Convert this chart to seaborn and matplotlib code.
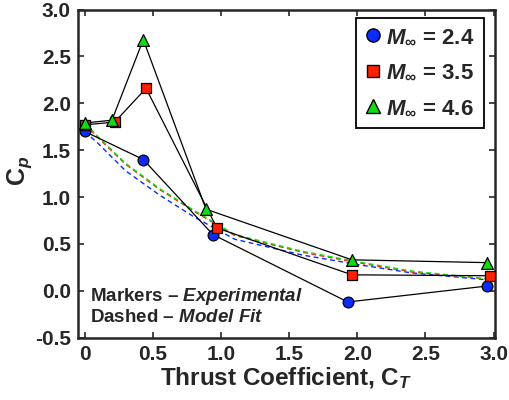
import matplotlib
matplotlib.use("Agg")
import matplotlib.pyplot as plt
from matplotlib.lines import Line2D
import seaborn as sns
import pandas as pd

# Experimental data
ct_24 = [0.0, 0.43, 0.94, 1.93, 2.95]
cp_24 = [1.70, 1.40, 0.60, -0.12, 0.05]
ct_35 = [0.0, 0.22, 0.45, 0.97, 1.96, 2.97]
cp_35 = [1.77, 1.80, 2.16, 0.67, 0.17, 0.16]
ct_46 = [0.0, 0.20, 0.43, 0.89, 1.96, 2.95]
cp_46 = [1.79, 1.82, 2.68, 0.87, 0.33, 0.30]

# Model fit curves
fit_ct = [0.0, 0.1, 0.3, 0.55, 0.8, 1.1, 1.6, 2.0, 2.4, 3.0]
fit_24 = [1.70, 1.57, 1.28, 1.02, 0.79, 0.55, 0.38, 0.28, 0.19, 0.11]
fit_35 = [1.78, 1.63, 1.35, 1.08, 0.85, 0.59, 0.41, 0.30, 0.20, 0.12]
fit_46 = [1.79, 1.64, 1.36, 1.09, 0.86, 0.60, 0.42, 0.31, 0.21, 0.12]

labels = [r"$M_{\infty}$ = 2.4", r"$M_{\infty}$ = 3.5", r"$M_{\infty}$ = 4.6"]
colors = ["#0a2cff", "#ff2000", "#10dd10"]
markers = ["o", "s", "^"]
msizes = [60, 42, 72]
leg_ms = [9.5, 8.8, 10.0]

sns.set_style("ticks")
plt.rcParams["font.family"] = ["Liberation Sans", "DejaVu Sans"]
plt.rcParams["font.weight"] = "bold"
plt.rcParams["mathtext.fontset"] = "custom"
plt.rcParams["mathtext.rm"] = "Liberation Sans:bold"
plt.rcParams["mathtext.it"] = "Liberation Sans:bold:italic"
plt.rcParams["mathtext.bf"] = "Liberation Sans:bold"

fig = plt.figure(figsize=(5.09, 4.0), dpi=100)
ax = fig.add_axes([0.153, 0.156, 0.8195, 0.82])

# dashed fits
for fy, c in zip([fit_24, fit_35, fit_46], colors):
    df = pd.DataFrame({"x": fit_ct, "y": fy})
    sns.lineplot(data=df, x="x", y="y", ax=ax, color=c, lw=1.0,
                 linestyle=(0, (3.5, 2.5)), estimator=None, zorder=2)

# experimental lines + markers
series = [(ct_24, cp_24), (ct_35, cp_35), (ct_46, cp_46)]
for (x, y), c, m, s in zip(series, colors, markers, msizes):
    df = pd.DataFrame({"x": x, "y": y})
    sns.lineplot(data=df, x="x", y="y", ax=ax, color="black", lw=0.9,
                 estimator=None, zorder=3)
    sns.scatterplot(data=df, x="x", y="y", ax=ax, color=c, marker=m, s=s,
                    edgecolor="black", linewidth=0.9, zorder=4)

ax.set_xlim(-0.05, 3.01)
ax.set_ylim(-0.5, 3.0)
ax.set_xticks([0, 0.5, 1.0, 1.5, 2.0, 2.5, 3.0])
ax.set_xticklabels(["0", "0.5", "1.0", "1.5", "2.0", "2.5", "3.0"])
ax.set_yticks([-0.5, 0.0, 0.5, 1.0, 1.5, 2.0, 2.5, 3.0])
ax.set_yticklabels(["-0.5", "0.0", "0.5", "1.0", "1.5", "2.0", "2.5", "3.0"])
ax.tick_params(direction="in", top=True, right=True, length=4, width=1.2,
               labelsize=15, pad=5)
for t in ax.get_xticklabels() + ax.get_yticklabels():
    t.set_fontweight("bold")
for sp in ax.spines.values():
    sp.set_linewidth(1.8)
    sp.set_visible(True)

ax.set_xlabel(r"Thrust Coefficient, C$_{T}$", fontsize=17.5, fontweight="bold", labelpad=1)
ax.set_ylabel(r"C$_{p}$", fontsize=18, fontweight="bold")
ax.yaxis.set_label_coords(-0.105, 0.51)

handles = [Line2D([], [], marker=m, color=c, markeredgecolor="black",
                  markeredgewidth=1.0, linestyle="none", markersize=ms)
           for c, m, ms in zip(colors, markers, leg_ms)]
leg = ax.legend(handles, labels, loc="upper right", fontsize=16,
                frameon=True, fancybox=False, edgecolor="black",
                framealpha=1, handletextpad=0.25, handlelength=0.7,
                labelspacing=0.65, borderpad=0.42, borderaxespad=0,
                bbox_to_anchor=(0.974, 0.975))
leg.get_frame().set_linewidth(1.3)
for t in leg.get_texts():
    t.set_fontweight("bold")

ax.text(0.029, 0.125, "Markers \u2013 $\\it{Experimental}$", transform=ax.transAxes,
        fontsize=13.5, fontweight="bold", va="center")
ax.text(0.029, 0.06, "Dashed \u2013 $\\it{Model\\ Fit}$", transform=ax.transAxes,
        fontsize=13.5, fontweight="bold", va="center")

fig.savefig("out.png", dpi=100)
